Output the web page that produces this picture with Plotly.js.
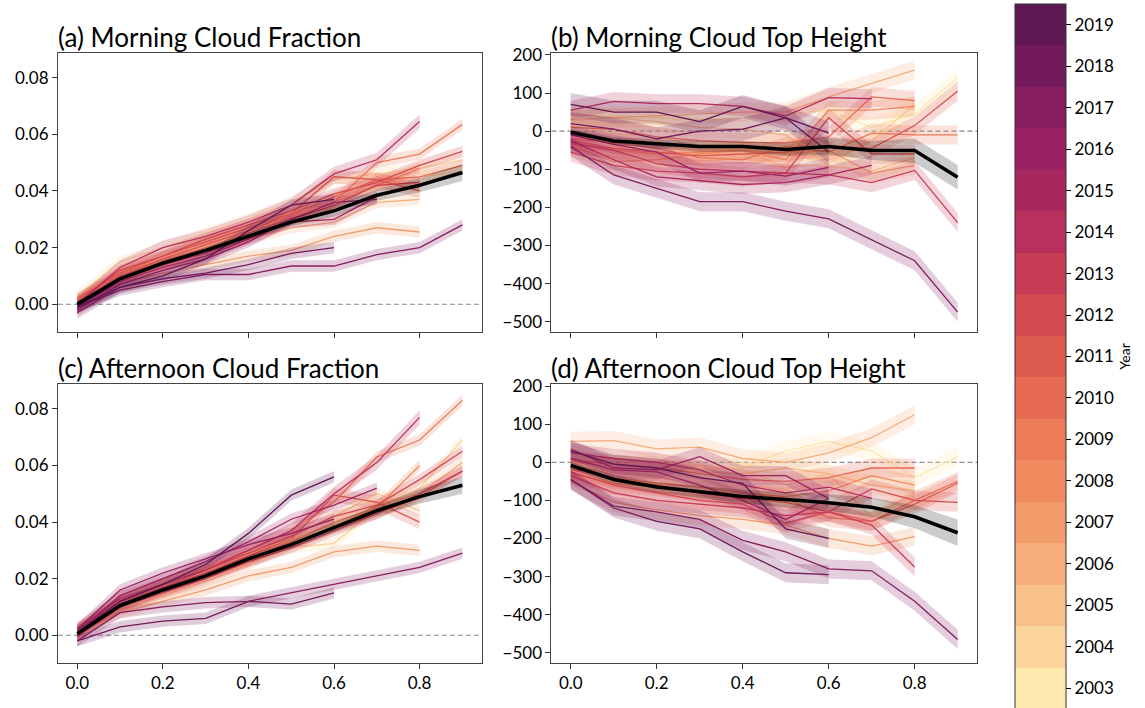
<!DOCTYPE html>
<html><head><meta charset="utf-8">
<script src="https://cdn.plot.ly/plotly-3.0.1.min.js"></script>
<style>body{margin:0;background:#fff}#chart{width:1145px;height:708px}</style>
</head><body><div id="chart"></div>
<script>
// ---------- DATA ----------
const years = [2003,2004,2005,2006,2007,2008,2009,2010,2011,2012,2013,2014,2015,2016,2017,2018,2019];
const yearColors = ['#fde8ae','#fad49b','#f8c18a','#f6ae7a','#f39c6b','#f08b5f','#ec7b57','#e66b52','#de5b4f','#d44b4f','#c83d55','#b9305c','#a9275f','#982161','#851d5f','#731a5b','#5f1854'];
const xBins = [0.0,0.1,0.2,0.3,0.4,0.5,0.6,0.7,0.8,0.9];
const xTickVals = [0,0.2,0.4,0.6,0.8];
const xTickText = ['0.0','0.2','0.4','0.6','0.8'];
const cfTickVals = [0,0.02,0.04,0.06,0.08];
const cfTickText = ['0.00','0.02','0.04','0.06','0.08'];
const cthTickVals = [-500,-400,-300,-200,-100,0,100,200];
const cthTickText = ['\u2212500','\u2212400','\u2212300','\u2212200','\u2212100','0','100','200'];
const panelTitles = ['(a) Morning Cloud Fraction','(b) Morning Cloud Top Height','(c) Afternoon Cloud Fraction','(d) Afternoon Cloud Top Height'];

// (a) morning cloud fraction, one row per year 2003..2019
const mornCF = [
 [0.002,0.012,0.017,0.022,0.027,0.032,0.036,0.041,0.045,0.047],
 [0.003,0.015,0.020,0.025,0.030,0.036,0.044,0.046,0.048,0.051],
 [0.001,0.011,0.016,0.021,0.026,0.031,0.034,0.045,0.041],
 [0.000,0.009,0.014,0.018,0.023,0.027,0.029,0.036,0.037],
 [0.001,0.007,0.011,0.014,0.017,0.019,0.024,0.027,0.0255],
 [0.002,0.010,0.015,0.020,0.025,0.031,0.036,0.042,0.048],
 [0.001,0.009,0.014,0.019,0.024,0.030,0.036,0.050,0.053,0.0635],
 [0.002,0.011,0.017,0.022,0.027,0.032,0.038,0.044,0.045,0.049],
 [0.000,0.010,0.016,0.021,0.026,0.032,0.045,0.044,0.040],
 [0.001,0.012,0.017,0.023,0.028,0.033,0.039,0.043,0.049,0.054],
 [-0.001,0.009,0.014,0.018,0.024,0.030,0.035,0.042,0.043],
 [0.000,0.013,0.020,0.024,0.029,0.035,0.046,0.051,0.0645],
 [-0.001,0.008,0.013,0.017,0.023,0.029,0.030,0.038],
 [-0.002,0.007,0.012,0.016,0.022,0.030,0.036,0.037],
 [-0.001,0.005,0.008,0.0105,0.0105,0.0135,0.0135,0.0175,0.020,0.028],
 [-0.003,0.006,0.009,0.011,0.014,0.018,0.020],
 [-0.001,0.006,0.010,0.016,0.026,0.035,0.037]
];
const mornCFErr = [0.002,0.002,0.002,0.002,0.002,0.002,0.002,0.002,0.0025,0.002,0.002,0.0025,0.002,0.002,0.002,0.002,0.002];
const mornCFMean = [0.000,0.009,0.0145,0.019,0.024,0.029,0.033,0.0385,0.042,0.0465];
const mornCFMeanErr = [0.001,0.001,0.001,0.001,0.0012,0.0015,0.002,0.002,0.0025,0.003];

// (b) morning cloud top height
const mornCTH = [
 [25,40,35,30,35,45,55,10,45,140],
 [15,-5,-15,-40,-50,-95,-85,-25,70],
 [45,35,25,10,5,-10,-90,-105,-70],
 [30,35,40,45,50,50,90,125,160],
 [-40,-80,-75,-60,-50,-60,-50,-110,-90],
 [-35,-50,-60,-55,-50,-75,55,55,65],
 [-20,-30,-45,-70,-75,-40,-55,-5,-10,-10],
 [10,5,-15,-25,-30,-30,-15,90,80],
 [-25,-45,-55,-65,-60,-55,-40,-45,15,105],
 [-55,-90,-105,-110,-120,-110,35,-60,-60],
 [-30,-50,-85,-100,-105,-110,-115,-135,-103,-240],
 [55,78,72,72,65,40,88,85],
 [-25,-75,-120,-130,-140,-135,-115,-90],
 [-10,-35,-55,-110,-105,-118,-95],
 [-40,-115,-150,-185,-185,-210,-230,-285,-340,-475],
 [20,5,-20,0,5,35,-5],
 [70,50,50,25,65,35,-55]
];
const mornCTHErr = [25,25,25,25,25,25,25,25,25,25,25,25,25,25,25,30,30];
const mornCTHMean = [-3,-26,-33,-40,-40,-48,-40,-51,-51,-121];
const mornCTHMeanErr = [8,10,12,14,15,17,22,25,32,32];

// (c) afternoon cloud fraction
const aftCF = [
 [0.003,0.012,0.017,0.022,0.028,0.034,0.039,0.043,0.050],
 [0.002,0.011,0.016,0.022,0.027,0.031,0.0325,0.045,0.052,0.069],
 [0.001,0.010,0.016,0.021,0.028,0.035,0.042,0.050,0.044],
 [0.000,0.009,0.014,0.019,0.025,0.032,0.038,0.046,0.050,0.061],
 [0.001,0.008,0.012,0.016,0.021,0.024,0.0295,0.0315,0.030],
 [0.002,0.011,0.017,0.022,0.027,0.033,0.040,0.045,0.060],
 [0.001,0.012,0.018,0.024,0.030,0.037,0.047,0.063,0.069,0.083],
 [0.000,0.010,0.016,0.021,0.026,0.032,0.038,0.043,0.049,0.058],
 [0.001,0.011,0.017,0.022,0.028,0.034,0.0495,0.047,0.040],
 [0.002,0.012,0.018,0.023,0.029,0.035,0.042,0.046,0.055,0.065],
 [0.000,0.010,0.015,0.020,0.026,0.031,0.037,0.043,0.050,0.058],
 [0.002,0.013,0.018,0.023,0.030,0.037,0.050,0.061,0.077],
 [0.001,0.014,0.020,0.026,0.033,0.041,0.046,0.052],
 [0.002,0.016,0.022,0.027,0.032,0.036,0.041],
 [-0.002,0.008,0.010,0.0115,0.012,0.015,0.018,0.021,0.024,0.029],
 [-0.002,0.003,0.005,0.006,0.012,0.011,0.015],
 [0.001,0.012,0.018,0.025,0.036,0.0495,0.056]
];
const aftCFErr = [0.002,0.002,0.002,0.002,0.002,0.002,0.002,0.002,0.0025,0.002,0.002,0.0025,0.002,0.002,0.002,0.002,0.002];
const aftCFMean = [0.0005,0.0105,0.016,0.021,0.027,0.032,0.038,0.044,0.049,0.053];
const aftCFMeanErr = [0.001,0.001,0.001,0.001,0.0012,0.0015,0.0018,0.002,0.0025,0.003];

// (d) afternoon cloud top height
const aftCTH = [
 [20,5,-5,-10,-15,30,55,30,-40,15],
 [0,-10,-20,-15,-20,-60,-30,-145,-80],
 [10,-5,-10,-25,-30,-15,-30,-60,-75],
 [55,57,35,40,10,0,25,65,125],
 [-50,-105,-125,-140,-150,-165,-200,-220,-195],
 [-30,-55,-65,-75,-80,-90,-75,-35,-60],
 [-20,-40,-55,-65,-80,-95,-145,-155,-100,-50],
 [5,-5,-15,-30,-45,-50,-40,-15,-15],
 [-15,-45,-60,-80,-95,-105,-130,-155,-110,-55],
 [-25,-60,-80,-100,-110,-160,-130,-70,-100,-105],
 [-35,-80,-100,-110,-120,-140,-130,-165,-275],
 [25,10,0,-20,-60,-80,-65,-95],
 [10,-20,-25,-60,-100,-150,-95],
 [35,-15,-20,15,-35,-35,-95],
 [-45,-115,-130,-150,-205,-235,-280,-285,-365,-465],
 [-45,-120,-155,-175,-235,-290,-295],
 [30,-5,-15,-40,-55,-175,-200]
];
const aftCTHErr = [25,25,25,25,25,25,25,25,25,25,25,25,25,25,25,25,25];
const aftCTHMean = [-8,-45,-65,-78,-90,-98,-106,-118,-143,-185];
const aftCTHMeanErr = [10,12,14,16,18,20,22,25,30,35];

// ---------- BUILD ----------
function rgba(hex, a){
  const n = parseInt(hex.slice(1),16);
  return 'rgba('+((n>>16)&255)+','+((n>>8)&255)+','+(n&255)+','+a+')';
}
const traces = [];
function band(xa, ya, xs, lo, hi, fill){
  traces.push({x: xs.concat(xs.slice().reverse()), y: lo.concat(hi.slice().reverse()),
    xaxis: xa, yaxis: ya, type:'scatter', mode:'lines', fill:'toself', fillcolor: fill,
    line:{width:0, color:'rgba(0,0,0,0)'}, hoverinfo:'skip', showlegend:false});
}
function panel(xa, ya, rows, errs, mean, meanErr){
  rows.forEach((vals, i) => {
    const xs = xBins.slice(0, vals.length);
    band(xa, ya, xs, vals.map(v=>v-errs[i]), vals.map(v=>v+errs[i]), rgba(yearColors[i],0.22));
    traces.push({x: xs, y: vals, xaxis: xa, yaxis: ya, type:'scatter', mode:'lines',
      line:{color: yearColors[i], width:1.3}, name: String(years[i]), showlegend:false});
  });
  band(xa, ya, xBins, mean.map((v,i)=>v-meanErr[i]), mean.map((v,i)=>v+meanErr[i]), 'rgba(0,0,0,0.2)');
  traces.push({x: xBins, y: mean, xaxis: xa, yaxis: ya, type:'scatter', mode:'lines',
    line:{color:'#000', width:3.5}, name:'mean', showlegend:false});
}
panel('x','y', mornCF, mornCFErr, mornCFMean, mornCFMeanErr);
panel('x2','y2', mornCTH, mornCTHErr, mornCTHMean, mornCTHMeanErr);
panel('x3','y3', aftCF, aftCFErr, aftCFMean, aftCFMeanErr);
panel('x4','y4', aftCTH, aftCTHErr, aftCTHMean, aftCTHMeanErr);

// colour bar
const cs = [];
years.forEach((y,i)=>{ cs.push([i/years.length, yearColors[i]]); cs.push([(i+1)/years.length, yearColors[i]]); });
traces.push({x:[0.3], y:[0.03], xaxis:'x', yaxis:'y', type:'scatter', mode:'markers', hoverinfo:'skip', showlegend:false,
  marker:{size:1, opacity:0, color:[years[0]], cmin: years[0]-0.5, cmax: years[years.length-1]+0.5, colorscale: cs, showscale:true,
    colorbar:{x:(1018-58)/922, xanchor:'left', y:(663-356.5)/610, yanchor:'middle',
      len:705, lenmode:'pixels', thickness:51, thicknessmode:'pixels', xpad:0, ypad:0,
      outlinecolor:'#333', outlinewidth:1, tickvals: years, ticktext: years.map(String),
      ticks:'outside', ticklen:5, tickcolor:'#000', tickfont:{size:17, color:'#000'},
      title:{text:'Year', side:'right', font:{size:14, color:'#000'}}}}});

const axFont = {size:17, color:'#000'};
function xax(domain, labels, anchor){
  return {domain, anchor, range:[-0.045,0.945], tickvals:xTickVals, ticktext:xTickText, showticklabels:labels,
    ticks:'outside', ticklen:5, tickcolor:'#333', showline:true, linecolor:'#444', linewidth:1, mirror:true,
    showgrid:false, zeroline:false, tickfont:axFont};
}
function yax(domain, cf, anchor){
  return {domain, anchor, range: cf ? [-0.0098,0.0887] : [-527,205],
    tickvals: cf ? cfTickVals : cthTickVals, ticktext: cf ? cfTickText : cthTickText,
    ticks:'outside', ticklen:5, tickcolor:'#333', showline:true, linecolor:'#444', linewidth:1, mirror:true,
    showgrid:false, zeroline:false, tickfont:axFont};
}
const dx1 = [0, 0.461], dx2 = [0.5369, 1];
const dyTop = [0.5426, 1], dyBot = [0, 0.457];
const zeroLine = (xr, yr) => ({type:'line', xref: xr+' domain', yref: yr, x0:0, x1:1, y0:0, y1:0,
  line:{color:'#888', width:1.2, dash:'5px,3px'}, layer:'below'});
const titleAnn = (text, xr, yr) => ({text, xref: xr+' domain', yref: yr+' domain', x:0, y:1, xanchor:'left', yanchor:'bottom',
  showarrow:false, font:{size:26, color:'#000'}, yshift:-2, xshift:-2});

const layout = {
  width:1145, height:708, margin:{l:58, r:165, t:53, b:45},
  paper_bgcolor:'#fff', plot_bgcolor:'#fff',
  font:{family:'Lato, "Open Sans", sans-serif', color:'#000'},
  showlegend:false,
  xaxis: xax(dx1, false, 'y'), yaxis: yax(dyTop, true, 'x'),
  xaxis2: xax(dx2, false, 'y2'), yaxis2: yax(dyTop, false, 'x2'),
  xaxis3: xax(dx1, true, 'y3'), yaxis3: yax(dyBot, true, 'x3'),
  xaxis4: xax(dx2, true, 'y4'), yaxis4: yax(dyBot, false, 'x4'),
  shapes:[zeroLine('x','y'), zeroLine('x2','y2'), zeroLine('x3','y3'), zeroLine('x4','y4')],
  annotations:[titleAnn(panelTitles[0],'x','y'), titleAnn(panelTitles[1],'x2','y2'), titleAnn(panelTitles[2],'x3','y3'), titleAnn(panelTitles[3],'x4','y4')]
};
Plotly.newPlot('chart', traces, layout, {staticPlot:true, displayModeBar:false});
</script></body></html>
